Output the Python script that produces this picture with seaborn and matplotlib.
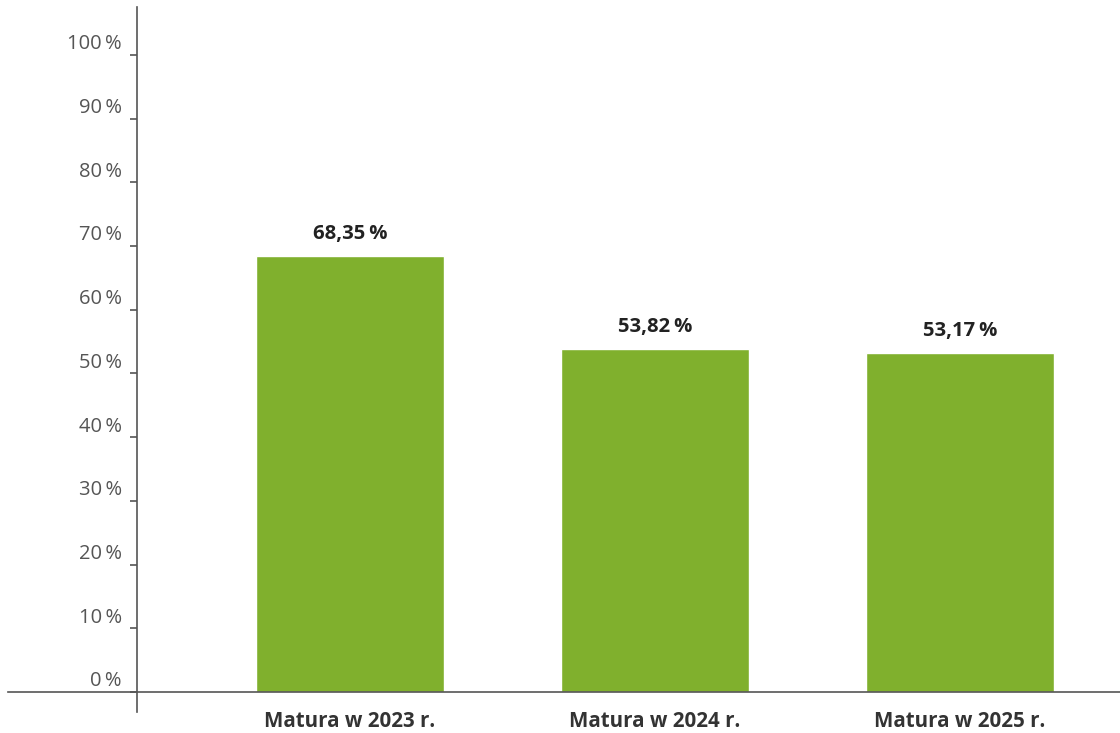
import matplotlib.pyplot as plt
import matplotlib.transforms as mtransforms
import seaborn as sns
import pandas as pd

# data
categories = ["Matura w 2023 r.", "Matura w 2024 r.", "Matura w 2025 r."]
values = [68.35, 53.82, 53.17]
value_labels = ["68,35\u2009%", "53,82\u2009%", "53,17\u2009%"]
y_ticks = [0, 10, 20, 30, 40, 50, 60, 70, 80, 90, 100]
y_tick_labels = [f"{t}\u2009%" for t in y_ticks]

df = pd.DataFrame({"kategoria": categories, "wynik": values})

sns.set_style("white")
plt.rcParams["font.family"] = ["Open Sans", "DejaVu Sans"]
plt.rcParams["font.stretch"] = "normal"

fig = plt.figure(figsize=(11.2, 7.33), dpi=100)
ax = fig.add_axes([8 / 1120, 21 / 733, 1112 / 1120, 705 / 733])

sns.barplot(data=df, x="kategoria", y="wynik", color="#80B02D",
            width=0.617, saturation=1, ax=ax)

ax.set_xlim(-1.121, 2.525)
ax.set_ylim(-3.14, 107.5)

# axes: left spine inside, bottom spine at zero
for s in ["top", "right"]:
    ax.spines[s].set_visible(False)
ax.spines["left"].set_position(("data", -0.698))
ax.spines["bottom"].set_position(("data", 0))
ax.spines["left"].set_color("#555555")
ax.spines["bottom"].set_color("#555555")
ax.spines["left"].set_linewidth(1.2)
ax.spines["bottom"].set_linewidth(1.2)

ax.set_yticks(y_ticks)
ax.set_yticklabels(y_tick_labels, fontsize=14.5, color="#555555",
                   fontstretch="normal")
ax.tick_params(axis="y", direction="out", length=5, width=1.2,
               color="#555555", pad=6, left=True)
offset = mtransforms.ScaledTranslation(0, 0.13, fig.dpi_scale_trans)
for lab in ax.get_yticklabels():
    lab.set_transform(lab.get_transform() + offset)

ax.tick_params(axis="x", length=0, pad=14)
for lab in ax.get_xticklabels():
    lab.set_fontsize(14.8)
    lab.set_fontweight("bold")
    lab.set_fontstretch("normal")
    lab.set_color("#333333")

ax.set_xlabel("")
ax.set_ylabel("")

for i, (v, t) in enumerate(zip(values, value_labels)):
    ax.annotate(t, (i, v), xytext=(0, 9), textcoords="offset points",
                ha="center", va="bottom", fontsize=14.6,
                fontweight="bold", fontstretch="normal", color="#222222")

fig.savefig("out.png", dpi=100)
